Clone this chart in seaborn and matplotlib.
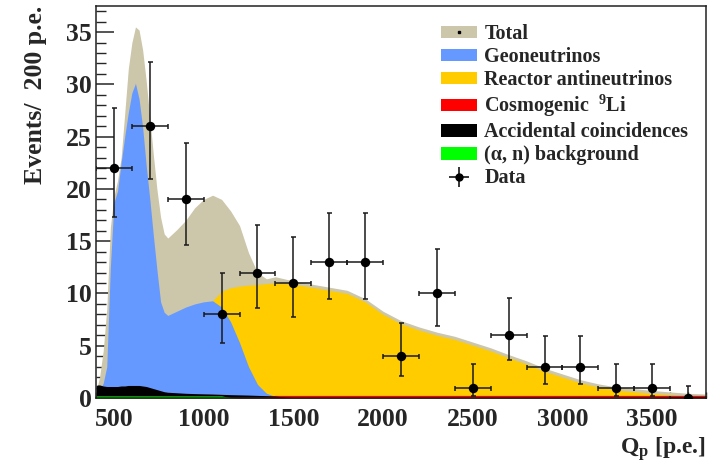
import matplotlib
matplotlib.use("Agg")
import matplotlib.pyplot as plt
from matplotlib.patches import Patch
from matplotlib.lines import Line2D
from matplotlib.ticker import MultipleLocator
import pandas as pd
import seaborn as sns

# Charge grid (p.e.) on which the model spectra are sampled
q_model = [400, 410, 420, 440, 460, 480, 500, 520, 540, 560, 580, 600, 620, 640,
           660, 680, 700, 720, 740, 760, 780, 800, 850, 900, 950, 1000, 1050, 1100,
           1150, 1200, 1250, 1300, 1350, 1400, 1450, 1500, 1600, 1700, 1800, 1900,
           2000, 2100, 2200, 2300, 2400, 2500, 2600, 2700, 2800, 2900, 3000, 3100,
           3200, 3300, 3400, 3500, 3600, 3700, 3800]

total = [0.8, 1.3, 2.0, 4.5, 8.5, 16.3, 19.3, 20.8, 23.0, 27.2, 31.5, 34.0, 35.5, 35.2,
         33.3, 30.3, 26.8, 23.2, 19.9, 17.3, 15.7, 15.3, 16.1, 17.0, 18.2, 19.0, 19.4, 19.0,
         17.9, 16.5, 13.9, 12.0, 11.4, 11.6, 11.4, 11.2, 10.9, 10.6, 10.3, 9.5,
         8.3, 7.4, 6.8, 6.3, 5.9, 5.35, 4.8, 4.15, 3.55, 2.85, 2.3, 1.75,
         1.35, 1.05, 0.9, 0.72, 0.58, 0.45, 0.38]

geoneutrinos = [0.2, 0.4, 0.8, 1.4, 3.0, 12.5, 18.7, 19.8, 22.5, 25.0, 27.3, 29.2, 30.1, 28.6,
                25.9, 22.2, 19.0, 15.5, 12.2, 9.2, 8.2, 7.9, 8.3, 8.7, 9.0, 9.2, 9.3, 8.7,
                7.3, 5.3, 3.0, 1.3, 0.45, 0.15, 0.05, 0.0, 0.0, 0.0, 0.0, 0.0,
                0.0, 0.0, 0.0, 0.0, 0.0, 0.0, 0.0, 0.0, 0.0, 0.0, 0.0, 0.0,
                0.0, 0.0, 0.0, 0.0, 0.0, 0.0, 0.0]

reactor = [0.1, 0.2, 0.4, 0.8, 1.5, 2.2, 2.8, 3.3, 3.8, 4.2, 4.6, 4.9, 5.2, 5.5,
           5.7, 5.9, 6.1, 6.3, 6.5, 6.7, 6.9, 7.0, 7.4, 7.8, 8.2, 8.7, 9.3, 10.2,
           10.55, 10.7, 10.8, 10.85, 10.95, 11.0, 10.95, 10.9, 10.6, 10.3, 10.0, 9.2,
           8.0, 7.1, 6.5, 6.0, 5.6, 5.05, 4.5, 3.85, 3.25, 2.55, 2.0, 1.45,
           1.05, 0.76, 0.6, 0.43, 0.3, 0.18, 0.1]

cosmogenic_li9 = [0.15, 0.15, 0.15, 0.15, 0.15, 0.15, 0.15, 0.15, 0.15, 0.15, 0.15, 0.15, 0.15, 0.15,
                  0.15, 0.15, 0.15, 0.15, 0.15, 0.15, 0.15, 0.15, 0.15, 0.15, 0.15, 0.15, 0.15, 0.15,
                  0.15, 0.15, 0.15, 0.15, 0.2, 0.25, 0.25, 0.25, 0.25, 0.25, 0.25, 0.25,
                  0.25, 0.25, 0.25, 0.25, 0.25, 0.25, 0.25, 0.25, 0.25, 0.25, 0.25, 0.25,
                  0.25, 0.25, 0.25, 0.25, 0.25, 0.25, 0.25]

accidental = [1.2, 1.25, 1.25, 1.15, 1.1, 1.1, 1.1, 1.1, 1.15, 1.15, 1.2, 1.2, 1.2, 1.2,
              1.15, 1.1, 1.0, 0.9, 0.8, 0.7, 0.6, 0.55, 0.5, 0.45, 0.42, 0.4, 0.38, 0.35,
              0.32, 0.3, 0.28, 0.25, 0.22, 0.18, 0.1, 0.05, 0.05, 0.05, 0.05, 0.05,
              0.05, 0.05, 0.05, 0.05, 0.05, 0.05, 0.05, 0.05, 0.05, 0.05, 0.05, 0.05,
              0.05, 0.05, 0.05, 0.05, 0.05, 0.05, 0.05]

alpha_n = [0.2, 0.2, 0.2, 0.2, 0.2, 0.2, 0.2, 0.2, 0.2, 0.2, 0.2, 0.2, 0.2, 0.2,
           0.2, 0.2, 0.2, 0.2, 0.2, 0.2, 0.2, 0.2, 0.2, 0.2, 0.2, 0.2, 0.2, 0.2,
           0.05, 0.0, 0.0, 0.0, 0.0, 0.0, 0.0, 0.0, 0.0, 0.0, 0.0, 0.0,
           0.0, 0.0, 0.0, 0.0, 0.0, 0.0, 0.0, 0.0, 0.0, 0.0, 0.0, 0.0,
           0.0, 0.0, 0.0, 0.0, 0.0, 0.0, 0.0]

# Measured candidates in 200 p.e. bins, with asymmetric Poisson errors
q_data = [500, 700, 900, 1100, 1300, 1500, 1700, 1900, 2100, 2300, 2500, 2700,
          2900, 3100, 3300, 3500, 3700]
counts = [22, 26, 19, 8, 12, 11, 13, 13, 4, 10, 1, 6, 3, 3, 1, 1, 0]
err_low = [4.65, 5.06, 4.32, 2.77, 3.42, 3.27, 3.56, 3.56, 1.91, 3.11, 0.83, 2.38,
           1.63, 1.63, 0.83, 0.83, 0.0]
err_high = [5.74, 6.15, 5.43, 3.94, 4.57, 4.42, 4.71, 4.71, 3.16, 4.27, 2.30, 3.58,
            2.92, 2.92, 2.30, 2.30, 1.15]
bin_half_width = 100

model = pd.DataFrame({
    "q": q_model, "total": total, "geo": geoneutrinos, "reactor": reactor,
    "li9": cosmogenic_li9, "acc": accidental, "an": alpha_n,
})
data = pd.DataFrame({"q": q_data, "n": counts})

sns.set_style("ticks")
plt.rcParams["font.family"] = ["Liberation Serif", "DejaVu Serif"]
plt.rcParams["font.weight"] = "bold"
plt.rcParams["mathtext.fontset"] = "custom"
plt.rcParams["mathtext.rm"] = "Liberation Serif:bold"
plt.rcParams["mathtext.bf"] = "Liberation Serif:bold"
plt.rcParams["mathtext.it"] = "Liberation Serif:bold"

colors = {
    "total": "#ccc6aa",
    "geo": "#6699ff",
    "reactor": "#ffcc00",
    "li9": "#ff0000",
    "acc": "#000000",
    "an": "#00ff00",
}

fig = plt.figure(figsize=(7.2, 4.65), dpi=100)
ax = fig.add_axes([96 / 720, 1 - 398 / 465, 610 / 720, 392 / 465])

# Model components, each filled from zero and overlaid
for z, key in enumerate(["total", "reactor", "geo", "li9", "acc", "an"]):
    ax.fill_between(model["q"], 0, model[key], color=colors[key], lw=0, zorder=1 + z * 0.1)

# Data points with horizontal (bin width) and vertical (Poisson) error bars
ax.errorbar(data["q"], data["n"], yerr=[err_low, err_high], xerr=bin_half_width,
            fmt="none", ecolor="#1a1a1a", elinewidth=1.1, capsize=1.8, capthick=1.1,
            zorder=4)
sns.scatterplot(data=data, x="q", y="n", ax=ax, color="black", s=46,
                edgecolor="black", linewidth=0, zorder=5, legend=False)

ax.set_xlim(400, 3800)
ax.set_ylim(0, 37.5)

ax.xaxis.set_major_locator(MultipleLocator(500))
ax.xaxis.set_minor_locator(MultipleLocator(100))
ax.yaxis.set_major_locator(MultipleLocator(5))
ax.yaxis.set_minor_locator(MultipleLocator(1))
ax.set_xticks([500, 1000, 1500, 2000, 2500, 3000, 3500])
ax.tick_params(axis="y", which="major", direction="in", length=13, width=1.1,
               labelsize=18.5, pad=3, right=False)
ax.tick_params(axis="y", which="minor", direction="in", length=7, width=1.0, right=False)
ax.tick_params(axis="x", which="major", direction="in", length=8.5, width=1.1,
               labelsize=18.5, pad=7, top=False)
ax.tick_params(axis="x", which="minor", direction="in", length=4, width=1.0, top=False)
for lab in ax.get_xticklabels() + ax.get_yticklabels():
    lab.set_fontweight("bold")

for side in ["left", "bottom", "top", "right"]:
    ax.spines[side].set_visible(True)
    ax.spines[side].set_color("#222222")
    ax.spines[side].set_linewidth(1.1)

ax.set_xlabel(r"Q$_\mathrm{p}$ [p.e.]", fontsize=17, fontweight="bold", loc="right")
ax.xaxis.set_label_coords(1.0, -0.095)
ax.set_ylabel("Events/  200 p.e.", fontsize=18.5, fontweight="bold", loc="top")
ax.yaxis.set_label_coords(-0.08, 1.0)

total_handle = (Patch(facecolor=colors["total"], edgecolor="none"),
                Line2D([], [], ls="none", marker="s", markersize=1.5, color="black"))
handles = [
    total_handle,
    Patch(facecolor=colors["geo"], edgecolor="none"),
    Patch(facecolor=colors["reactor"], edgecolor="none"),
    Patch(facecolor=colors["li9"], edgecolor="none"),
    Patch(facecolor=colors["acc"], edgecolor="none"),
    Patch(facecolor=colors["an"], edgecolor="none"),
    ax.errorbar([], [], yerr=[], xerr=[], fmt="o", color="black", markersize=5,
                elinewidth=1.1),
]
labels = ["Total", "Geoneutrinos", "Reactor antineutrinos", "Cosmogenic  $^{9}$Li",
          "Accidental coincidences", "(α, n) background", "Data"]
leg = ax.legend(handles, labels, loc="upper left",
                bbox_to_anchor=(441 / 720, 1 - 24 / 465), bbox_transform=fig.transFigure,
                frameon=False, prop={"family": "Liberation Serif", "weight": "bold",
                                     "size": 14.5},
                handlelength=1.8, handleheight=0.6, handletextpad=0.35,
                labelspacing=0.15, borderpad=0, borderaxespad=0)

fig.savefig("out.png", dpi=100, facecolor="white")
